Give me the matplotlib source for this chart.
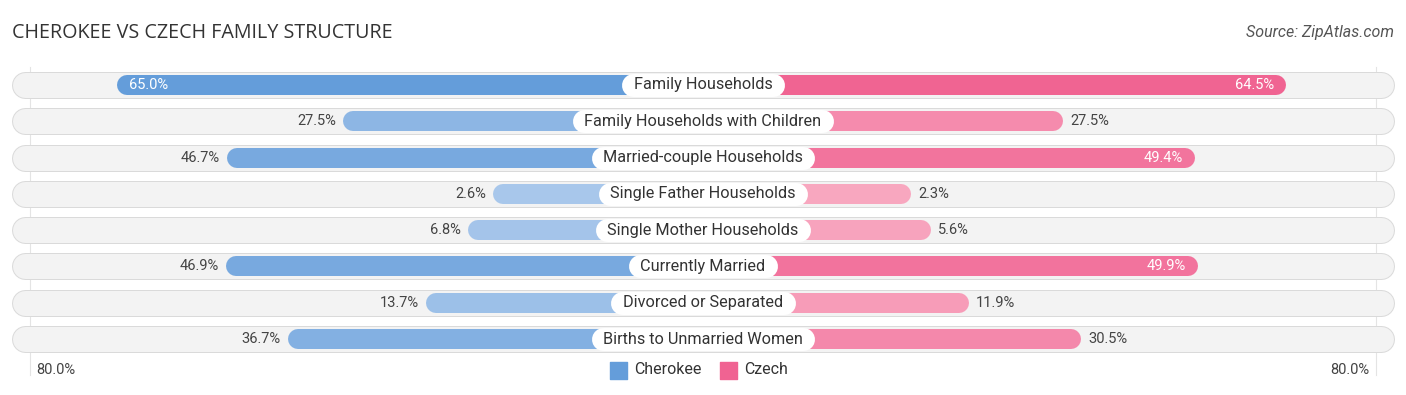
import numpy as np
import matplotlib.pyplot as plt
import matplotlib.colors as mcolors

# ===== data =====
categories = [
    "Family Households",
    "Family Households with Children",
    "Married-couple Households",
    "Single Father Households",
    "Single Mother Households",
    "Currently Married",
    "Divorced or Separated",
    "Births to Unmarried Women",
]
cherokee = [65.0, 27.5, 46.7, 2.6, 6.8, 46.9, 13.7, 36.7]
czech = [64.5, 27.5, 49.4, 2.3, 5.6, 49.9, 11.9, 30.5]
axis_max = 80.0

# ===== layout (1 data unit = 6.03 px) =====
W, H, DPI = 1406, 395, 100
PX = 6.03          # pixels per percent
OFF = 32.2         # space kept for the centre label
ROW0, ROW_STEP = 85, 36.3

fig = plt.figure(figsize=(W / DPI, H / DPI), dpi=DPI)
ax = fig.add_axes([0, 0, 1, 1])
ax.set_xlim(-W / 2 / PX, W / 2 / PX)
ax.set_ylim((H - ROW0) / ROW_STEP, -ROW0 / ROW_STEP)
ax.axis("off")
renderer = fig.canvas.get_renderer()

px2pt = 72 / DPI
blue_dark, blue_light = np.array(mcolors.to_rgb("#649dda")), np.array(mcolors.to_rgb("#abc9ec"))
pink_dark, pink_light = np.array(mcolors.to_rgb("#f06392")), np.array(mcolors.to_rgb("#f8a9c1"))
vmax = max(max(cherokee), max(czech))

def shade(dark, light, v):
    t = v / vmax
    return tuple(light + (dark - light) * t)

# faint gridlines at +-80%
for s in (-1, 1):
    x = s * (OFF + axis_max - 3.5 / PX)
    ax.plot([x, x], [-0.5, 8.0], color="#e4e4e4", lw=0.8, zorder=0)

bg_half = (W / 2 - 12) / PX
bg_r = 13 / PX
bar_r = 10 / PX
for i, (cat, a, b) in enumerate(zip(categories, cherokee, czech)):
    # row background
    ax.plot([-bg_half + bg_r, bg_half - bg_r], [i, i], color="#dadada",
            lw=27 * px2pt, solid_capstyle="round", zorder=1)
    ax.plot([-bg_half + bg_r, bg_half - bg_r], [i, i], color="#f3f3f3",
            lw=25 * px2pt, solid_capstyle="round", zorder=1)

    # bars
    left = -(OFF + a)
    right = OFF + b
    ax.plot([left + bar_r, 0], [i, i], color=shade(blue_dark, blue_light, a),
            lw=20 * px2pt, solid_capstyle="round", zorder=2)
    ax.plot([0, right - bar_r], [i, i], color=shade(pink_dark, pink_light, b),
            lw=20 * px2pt, solid_capstyle="round", zorder=2)

    # centre label on a white pill
    t = ax.text(0, i, cat, ha="center", va="center", fontsize=11.7, color="#333333",
                family="Roboto", zorder=5)
    tw = t.get_window_extent(renderer).width
    half = (tw / 2 + 12 - 11.5) / PX
    ax.plot([-half, half], [i, i], color="white", lw=23 * px2pt,
            solid_capstyle="round", zorder=4)

    # value labels
    if a > 48:
        ax.text(left + 12 / PX, i, f"{a:.1f}%", ha="left", va="center",
                fontsize=10.5, color="white", family="Roboto", zorder=3)
    else:
        ax.text(left - 7 / PX, i, f"{a:.1f}%", ha="right", va="center",
                fontsize=10.5, color="#444444", family="Roboto", zorder=3)
    if b > 48:
        ax.text(right - 12 / PX, i, f"{b:.1f}%", ha="right", va="center",
                fontsize=10.5, color="white", family="Roboto", zorder=3)
    else:
        ax.text(right + 7 / PX, i, f"{b:.1f}%", ha="left", va="center",
                fontsize=10.5, color="#444444", family="Roboto", zorder=3)

# axis end labels
y_axis = (370 - ROW0) / ROW_STEP
ax.text(-(OFF + axis_max) + 10 / PX, y_axis, f"{axis_max:.1f}%", ha="left", va="center",
        fontsize=10.5, color="#444444", family="Roboto")
ax.text(OFF + axis_max - 10 / PX, y_axis, f"{axis_max:.1f}%", ha="right", va="center",
        fontsize=10.5, color="#444444", family="Roboto")

# legend
ax.scatter([(618 - W / 2) / PX], [y_axis], marker="s", s=(17 * px2pt) ** 2,
           color=blue_dark, zorder=3)
ax.text((634 - W / 2) / PX, y_axis, "Cherokee", ha="left", va="center",
        fontsize=11.5, color="#333333", family="Roboto")
ax.scatter([(728 - W / 2) / PX], [y_axis], marker="s", s=(17 * px2pt) ** 2,
           color=pink_dark, zorder=3)
ax.text((744 - W / 2) / PX, y_axis, "Czech", ha="left", va="center",
        fontsize=11.5, color="#333333", family="Roboto")

# title and source
fig.text(12 / W, 1 - 33 / H, "CHEROKEE VS CZECH FAMILY STRUCTURE", ha="left", va="center",
         fontsize=14.2, color="#333333", family="Open Sans")
fig.text(1 - 12 / W, 1 - 33 / H, "Source: ZipAtlas.com", ha="right", va="center",
         fontsize=11.5, color="#555555", family="Roboto", style="italic")

fig.savefig("out.png", dpi=DPI)
